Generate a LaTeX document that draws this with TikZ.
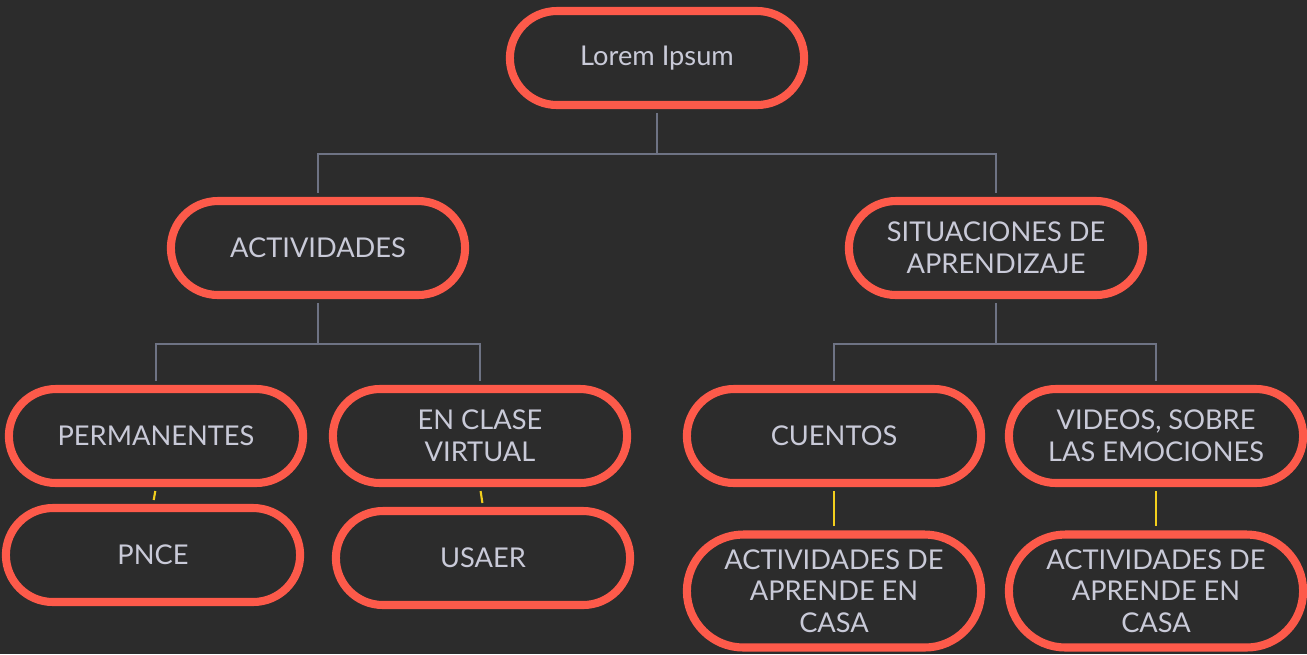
\documentclass[tikz,border=0pt]{standalone}
\usepackage{fontspec}
\setmainfont{Lato}
\usetikzlibrary{shapes.misc}
\definecolor{chalk}{HTML}{2C2C2C}
\definecolor{pillred}{HTML}{FD5A4A}
\definecolor{pilltext}{HTML}{C9CAD8}
\definecolor{linkgrey}{HTML}{6E7384}
\definecolor{linkyellow}{HTML}{F2CF1D}
\tikzset{
  pill/.style={rounded rectangle, draw=pillred, line width=4.6pt,
    minimum width=6.12cm, minimum height=1.88cm, text=pilltext,
    align=center, font=\fontsize{15.5}{18}\selectfont},
  tallpill/.style={pill, minimum height=2.26cm},
  link/.style={draw=linkgrey, line width=1.2pt, shorten <=2.3pt, shorten >=2.3pt},
  hook/.style={draw=linkyellow, line width=1.2pt, shorten <=2.3pt, shorten >=2.3pt}
}
\begin{document}
\begin{tikzpicture}[x=0.02cm,y=-0.02cm]
        \fill[chalk] (0,0) rectangle (1307,654);
        \useasboundingbox (0,0) rectangle (1307,654);
        \node[pill] (top) at (657,58) {Lorem Ipsum};
        \node[pill] (act) at (318,248) {ACTIVIDADES};
        \node[pill] (sit) at (996,248) {SITUACIONES DE\\APRENDIZAJE};
        \node[pill] (perm) at (156,436) {PERMANENTES};
        \node[pill] (virt) at (480,436) {EN CLASE\\VIRTUAL};
        \node[pill] (cuen) at (834,436) {CUENTOS};
        \node[pill] (vid) at (1156,436) {VIDEOS, SOBRE\\LAS EMOCIONES};
        \node[pill] (pnce) at (153,555) {PNCE};
        \node[pill] (usaer) at (483,558) {USAER};
        \node[tallpill] (casaA) at (834,591) {ACTIVIDADES DE\\APRENDE EN\\CASA};
        \node[tallpill] (casaB) at (1156,591) {ACTIVIDADES DE\\APRENDE EN\\CASA};
        \draw[link] (top.south) -- ++(0,45) -| (act.north);
        \draw[link] (top.south) -- ++(0,45) -| (sit.north);
        \draw[link] (act.south) -- ++(0,45) -| (perm.north);
        \draw[link] (act.south) -- ++(0,45) -| (virt.north);
        \draw[link] (sit.south) -- ++(0,45) -| (cuen.north);
        \draw[link] (sit.south) -- ++(0,45) -| (vid.north);
        \draw[hook] (perm.south) -- (pnce.north);
        \draw[hook] (virt.south) -- (usaer.north);
        \draw[hook] (cuen.south) -- (casaA.north);
        \draw[hook] (vid.south) -- (casaB.north);
    \end{tikzpicture}
\end{document}
